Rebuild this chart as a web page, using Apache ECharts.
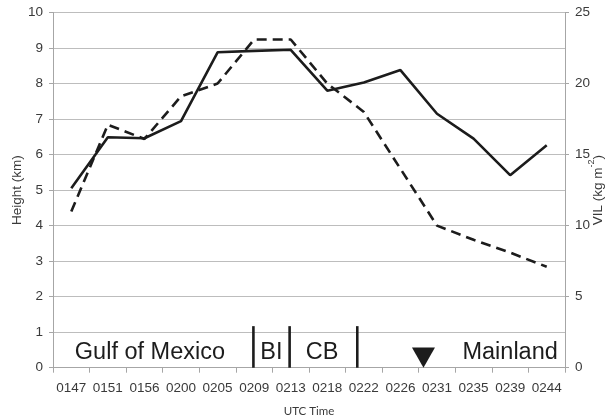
<!DOCTYPE html>
<html>
<head>
<meta charset="utf-8">
<script src="https://cdn.jsdelivr.net/npm/echarts@6/dist/echarts.min.js"></script>
<style>
  html, body { margin: 0; padding: 0; background: #ffffff; }
  #chart { width: 612px; height: 417px; }
</style>
</head>
<body>
<div id="chart"></div>
<script>
// UTC scan times (categories)
var times = ['0147', '0151', '0156', '0200', '0205', '0209', '0213',
             '0218', '0222', '0226', '0231', '0235', '0239', '0244'];
// Echo-top height (km), solid line, left axis
var heightKm = [5.05, 6.49, 6.46, 6.94, 8.88, 8.92, 8.95, 7.80, 8.03, 8.38, 7.15, 6.45, 5.42, 6.26];
// Vertically integrated liquid (kg m^-2), dashed line, right axis
var vil = [11.0, 17.1, 16.1, 19.1, 20.0, 23.1, 23.1, 20.0, 18.0, 14.0, 10.0, 9.0, 8.1, 7.1];

// Region labels along the track (position in category units)
var regionLabels = [
  { text: 'Gulf of Mexico', pos: 2.15 },
  { text: 'BI', pos: 5.47 },
  { text: 'CB', pos: 6.86 },
  { text: 'Mainland', pos: 12.0 }
];
var regionBorders = [4.98, 5.97, 7.82];
var landfallPos = 9.63;

var axisGrey = '#a6a6a6';
var labelColor = '#3a3a3a';
var font = 'Liberation Sans, Arial, sans-serif';

var chart = echarts.init(document.getElementById('chart'), null, { renderer: 'canvas' });

chart.setOption({
  animation: false,
  backgroundColor: '#ffffff',
  grid: { left: 53, right: 47, top: 12.5, bottom: 49.3, containLabel: false, outerBoundsMode: 'none' },
  xAxis: [{
    type: 'category',
    data: times,
    boundaryGap: true,
    name: 'UTC Time',
    nameLocation: 'middle',
    nameGap: 38,
    nameMoveOverlap: false,
    nameTextStyle: { fontFamily: 'Lato, sans-serif', fontSize: 11.5, color: '#3a3a3a' },
    axisLine: { onZero: false, lineStyle: { color: axisGrey, width: 1 } },
    axisTick: { show: true, length: 5, alignWithLabel: false, lineStyle: { color: axisGrey } },
    axisLabel: { interval: 0, hideOverlap: false, fontFamily: font, fontSize: 13.5, color: labelColor, margin: 14 },
    splitLine: { show: false }
  }, {
    type: 'value',
    min: -0.5,
    max: 13.5,
    show: false,
    axisLine: { show: false },
    axisTick: { show: false },
    axisLabel: { show: false },
    splitLine: { show: false }
  }],
  yAxis: [{
    type: 'value',
    min: 0,
    max: 10,
    interval: 1,
    name: 'Height (km)',
    nameLocation: 'middle',
    nameGap: 29,
    nameMoveOverlap: false,
    nameTextStyle: { fontFamily: font, fontSize: 13.5, color: labelColor },
    axisLine: { show: true, onZero: false, lineStyle: { color: axisGrey } },
    axisTick: { show: true, length: 4, lineStyle: { color: axisGrey } },
    axisLabel: { fontFamily: font, fontSize: 13.5, color: labelColor, margin: 10 },
    splitLine: { show: true, lineStyle: { color: '#bdbdbd', width: 1 } }
  }, {
    type: 'value',
    min: 0,
    max: 25,
    interval: 5,
    position: 'right',
    name: '{t|VIL (kg m}{s|-2}{t|)}',
    nameLocation: 'middle',
    nameGap: 22,
    nameMoveOverlap: false,
    nameTextStyle: {
      color: labelColor,
      rich: {
        t: { fontFamily: font, fontSize: 13.5, color: labelColor, lineHeight: 18, verticalAlign: 'bottom' },
        s: { fontFamily: font, fontSize: 9, color: labelColor, lineHeight: 18, verticalAlign: 'top' }
      }
    },
    axisLine: { show: true, onZero: false, lineStyle: { color: axisGrey } },
    axisTick: { show: true, length: 4, lineStyle: { color: axisGrey } },
    axisLabel: { fontFamily: font, fontSize: 13.5, color: labelColor, margin: 10 },
    splitLine: { show: false }
  }],
  series: [{
    name: 'Height',
    type: 'line',
    xAxisIndex: 0,
    yAxisIndex: 0,
    data: heightKm,
    symbol: 'none',
    lineStyle: { color: '#1c1c1c', width: 2.6, type: 'solid' },
    z: 3
  }, {
    name: 'VIL',
    type: 'line',
    xAxisIndex: 0,
    yAxisIndex: 1,
    data: vil,
    symbol: 'none',
    lineStyle: { color: '#1c1c1c', width: 2.6, type: [10, 6] },
    z: 3
  }]
});

// Region annotations along the bottom of the plot
function px(pos, val) {
  return chart.convertToPixel({ xAxisIndex: 1, yAxisIndex: 0 }, [pos, val]);
}
var graphics = [];
regionBorders.forEach(function (p) {
  var a = px(p, 0), b = px(p, 1.17);
  graphics.push({
    type: 'line',
    shape: { x1: a[0], y1: a[1], x2: b[0], y2: b[1] },
    style: { stroke: '#1c1c1c', lineWidth: 2.6 },
    z: 10
  });
});
regionLabels.forEach(function (r) {
  var c = px(r.pos, 0.1);
  graphics.push({
    type: 'text',
    x: c[0],
    y: c[1],
    style: {
      text: r.text,
      font: '23.5px ' + font,
      fill: '#1c1c1c',
      align: 'center',
      verticalAlign: 'bottom'
    },
    z: 10
  });
});
var tipPt = px(landfallPos, 0);
var basePt = px(landfallPos, 0.57);
graphics.push({
  type: 'polygon',
  shape: { points: [[tipPt[0] - 11.5, basePt[1]], [tipPt[0] + 11.5, basePt[1]], [tipPt[0], tipPt[1]]] },
  style: { fill: '#1c1c1c' },
  z: 10
});
chart.setOption({ graphic: graphics });
</script>
</body>
</html>
